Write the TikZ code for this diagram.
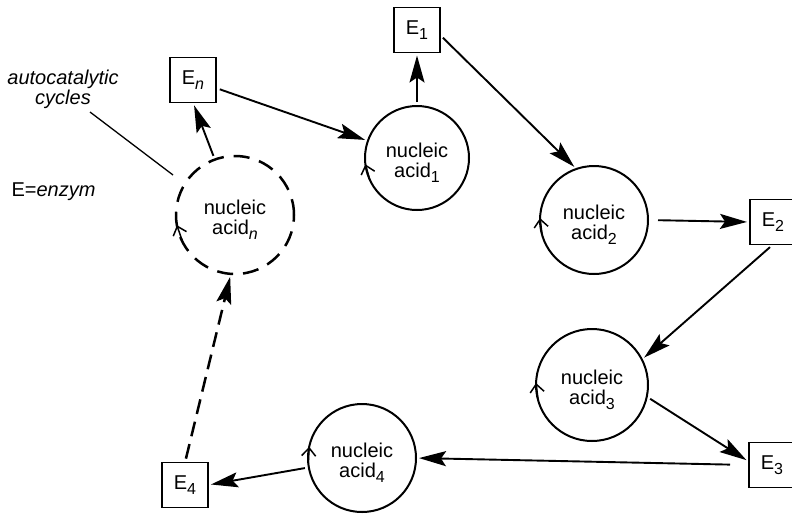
\documentclass[tikz,border=0pt]{standalone}
\usepackage{fontspec}
\setmainfont{Liberation Sans}
\usetikzlibrary{arrows.meta,calc}

% lowered, slightly smaller index after E and acid
\newcommand\subx[1]{\raisebox{-5pt}{\fontsize{16}{16}\selectfont #1}}

\begin{document}
\begin{tikzpicture}[x=1pt,y=-1pt,
  every node/.style={font=\fontsize{20}{20}\selectfont},
  acid/.style={circle,draw,line width=2pt,minimum size=#1,inner sep=0pt,
               outer sep=0pt},
  acidtext/.style={align=center,yshift=-5pt},
  enz/.style={draw,line width=1.7pt,minimum width=46pt,minimum height=45pt,
              inner sep=0pt,outer sep=0pt},
  link/.style={line width=1.9pt,-{Stealth[length=27pt,width=15pt,inset=5pt]},
               shorten <=4pt,shorten >=3pt},
  dashlink/.style={link,line width=2.5pt,dash pattern=on 15pt off 8pt},
  sense/.style={line width=1.5pt,-{Straight Barb[length=8pt,width=14pt]}}
]
\clip (0,0) rectangle (792,515);

% labels
\node[font=\fontsize{20}{20}\selectfont\itshape,align=center] (acyc) at (63,89)
  {autocatalytic\\cycles};
\node[anchor=base west] (key) at (8,196) {E=\textit{enzym}};
\coordinate (lead0) at (90,112);
\coordinate (lead1) at (173,175);
\draw[line width=1.3pt] (lead0) -- (lead1);

% nucleic acids
\node[acid=104pt,label={[acidtext]center:nucleic\\acid\subx{1}}] (na1) at (417,158) {};
\node[acid=108pt,label={[acidtext]center:nucleic\\acid\subx{2}}] (na2) at (594,220) {};
\node[acid=112pt,label={[acidtext]center:nucleic\\acid\subx{3}}] (na3) at (592,385) {};
\node[acid=108pt,label={[acidtext]center:nucleic\\acid\subx{4}}] (na4) at (362,458) {};
\node[acid=118pt,line width=2.5pt,dash pattern=on 16pt off 10pt,
      label={[acidtext]center:nucleic\\acid\subx{\textit{n}}}] (nan) at (235,215) {};

% enzymes
\node[enz] (En) at (193,80) {E\subx{\textit{n}}};
\node[enz] (E1) at (417,30) {E\subx{1}};
\node[enz] (E2) at (773,222) {E\subx{2}};
\node[enz] (E3) at (772,465) {E\subx{3}};
\node[enz] (E4) at (185,485) {E\subx{4}};

% sense of each cycle
\draw[sense] (na1.205) -- (na1.187);
\draw[sense] (na2.196) -- (na2.178);
\draw[sense] (na3.196) -- (na3.178);
\draw[sense] (na4.186) -- (na4.168);
\draw[sense] (nan.208) -- (nan.190);

% catalytic links
\draw[link] (nan.110) -- (En.south);
\draw[link] (En) -- (na1);
\draw[link] (na1.north) -- (E1.south);
\draw[link] (E1.-12) -- (na2.109);
\draw[link,shorten <=10pt] (na2.east) -- (E2.west);
\draw[link] (E2.south) -- (na3.27);
\draw[link] (na3.-12) -- (E3.172);
\draw[link,shorten <=19pt] (E3.west) -- (na4.east);
\draw[link] (na4.190) -- (E4.east);
\draw[dashlink] (E4.north) -- (nan.266);
\end{tikzpicture}
\end{document}
